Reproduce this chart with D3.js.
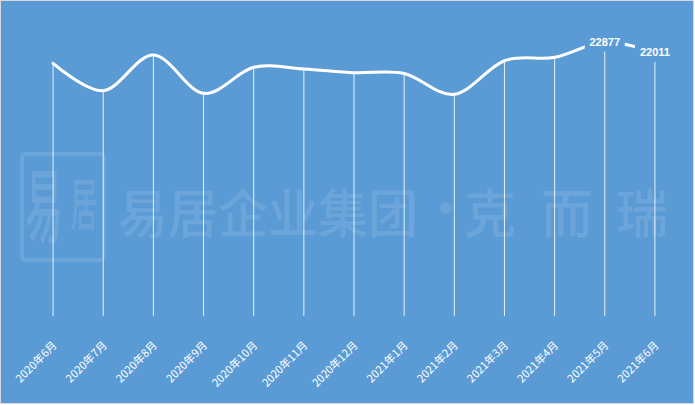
<!DOCTYPE html>
<html>
<head>
<meta charset="utf-8">
<script src="https://cdn.jsdelivr.net/npm/d3@7/dist/d3.min.js"></script>
<style>
  html, body { margin: 0; padding: 0; background: #ffffff; }
  svg { display: block; }
</style>
</head>
<body>
<svg id="chart" width="695" height="405"></svg>
<script>
// Monthly series, June 2020 – June 2021
const months = ["2020年6月","2020年7月","2020年8月","2020年9月","2020年10月","2020年11月","2020年12月",
                "2021年1月","2021年2月","2021年3月","2021年4月","2021年5月","2021年6月"];
const values = [21099, 18811, 21792, 18594, 20765, 20623, 20314, 20247, 18510, 21316, 21600, 22877, 22011];
// Only the last two points carry a value label
const labelled = [false, false, false, false, false, false, false, false, false, false, false, true, true];
const yDomain = [0, 25000];

const W = 695, H = 405;
const BG = "#5B9BD5";
const svg = d3.select("#chart");

// Chart area with its thin light border
svg.append("rect")
  .attr("x", 0.5).attr("y", 0.5).attr("width", W - 2).attr("height", H - 2)
  .attr("fill", BG).attr("stroke", "#D9D9D9").attr("stroke-width", 1);

const x = d3.scalePoint().domain(months).range([28, 680]).padding(0.5);
const y = d3.scaleLinear().domain(yDomain).range([316, 16.6]);

// Watermark
const wm = svg.append("g").attr("fill", "#ffffff").attr("fill-opacity", 0.1)
  .attr("font-family", "'Noto Sans CJK SC', sans-serif").attr("font-weight", 500);
wm.append("rect").attr("x", 22).attr("y", 154).attr("width", 82).attr("height", 106)
  .attr("rx", 3).attr("fill", "none").attr("stroke", "#ffffff").attr("stroke-opacity", 0.1)
  .attr("stroke-width", 4);
wm.append("text").attr("x", 44).attr("y", 235).attr("font-size", 50)
  .attr("text-anchor", "middle").attr("transform", "translate(44,235) scale(0.75,1.6) translate(-44,-235)")
  .text("易");
wm.append("text").attr("x", 84).attr("y", 225).attr("font-size", 44)
  .attr("text-anchor", "middle").attr("transform", "translate(84,225) scale(0.6,1.3) translate(-84,-225)")
  .text("居");
wm.append("text").attr("x", 118).attr("y", 233).attr("font-size", 52)
  .attr("textLength", 300).attr("lengthAdjust", "spacingAndGlyphs")
  .text("易居企业集团");
wm.append("text").attr("x", 446).attr("y", 222).attr("font-size", 40)
  .attr("font-family", "'Liberation Sans', Arial, sans-serif").attr("font-weight", 700)
  .attr("text-anchor", "middle").text("•");
[["克", 490], ["而", 567], ["瑞", 642]].forEach(([ch, cx]) => {
  wm.append("text").attr("x", cx).attr("y", 233).attr("font-size", 52)
    .attr("text-anchor", "middle").text(ch);
});

// Drop lines from each point down to the category axis
svg.append("g").selectAll("line").data(values).join("line")
  .attr("x1", (d, i) => x(months[i])).attr("x2", (d, i) => x(months[i]))
  .attr("y1", d => y(d)).attr("y2", y(0))
  .attr("stroke", "#ffffff").attr("stroke-opacity", 0.85).attr("stroke-width", 1);

// Smoothed series line
const line = d3.line()
  .x((d, i) => x(months[i]))
  .y(d => y(d))
  .curve(d3.curveCardinal.tension(0));
svg.append("path").datum(values)
  .attr("d", line)
  .attr("fill", "none").attr("stroke", "#ffffff").attr("stroke-width", 3)
  .attr("stroke-linecap", "round");

// Value labels on a background box that masks the line beneath
const lab = svg.append("g").selectAll("g")
  .data(values.map((v, i) => ({ v, i })).filter(d => labelled[d.i]))
  .join("g")
  .attr("transform", d => `translate(${x(months[d.i])},${y(d.v)})`);
lab.append("rect").attr("x", -20).attr("y", -9.5).attr("width", 40).attr("height", 19).attr("fill", BG);
lab.append("text").attr("text-anchor", "middle").attr("dy", "0.36em")
  .attr("fill", "#ffffff").attr("font-family", "'Liberation Sans', Arial, sans-serif")
  .attr("font-size", 11).attr("font-weight", 700)
  .text(d => d.v);

// Category labels, rotated 45°
const xAxis = d3.axisBottom(x).tickSize(0).tickPadding(0);
const ax = svg.append("g").attr("transform", "translate(0,338)").call(xAxis);
ax.select(".domain").remove();
ax.selectAll("text")
  .attr("fill", "#ffffff")
  .attr("font-family", "'Noto Sans CJK SC', sans-serif")
  .attr("font-size", 11)
  .attr("text-anchor", "end")
  .attr("dy", 0)
  .attr("transform", "translate(4,8) rotate(-45)");
</script>
</body>
</html>
